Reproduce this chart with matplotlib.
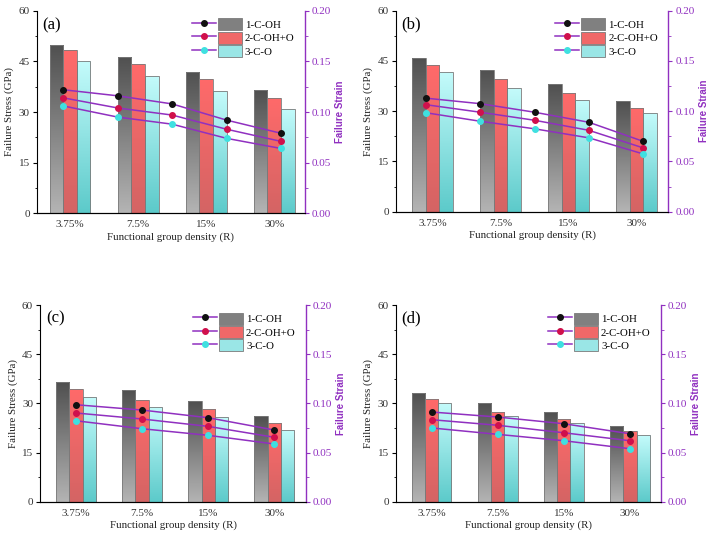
import numpy as np
import matplotlib
matplotlib.use('Agg')
import matplotlib.pyplot as plt
from matplotlib.colors import LinearSegmentedColormap
from matplotlib.patches import Patch
from matplotlib.legend_handler import HandlerTuple
from matplotlib.ticker import MultipleLocator, FormatStrFormatter

groups = ['3.75%', '7.5%', '15%', '30%']
labels = ['1-C-OH', '2-C-OH+O', '3-C-O']

# failure stress (GPa), one row per series
stress_a = [[49.8, 46.4, 42.0, 36.4], [48.3, 44.2, 39.9, 34.1], [45.0, 40.6, 36.1, 31.0]]
stress_b = [[46.0, 42.4, 38.2, 33.1], [43.7, 39.7, 35.3, 31.0], [41.8, 37.0, 33.2, 29.4]]
stress_c = [[36.6, 34.0, 30.6, 26.1], [34.3, 31.0, 28.2, 23.9], [32.0, 28.8, 25.9, 21.8]]
stress_d = [[33.1, 30.0, 27.3, 23.1], [31.2, 27.5, 25.2, 21.5], [30.0, 26.0, 24.1, 20.3]]

# failure strain
strain_a = [[0.122, 0.116, 0.108, 0.092, 0.079],
            [0.114, 0.104, 0.097, 0.083, 0.071],
            [0.106, 0.095, 0.088, 0.074, 0.064]]
strain_b = [[0.113, 0.1075, 0.099, 0.089, 0.070],
            [0.1065, 0.099, 0.091, 0.081, 0.0635],
            [0.0985, 0.090, 0.0825, 0.0735, 0.0575]]
strain_c = [[0.0986, 0.0932, 0.0854, 0.0729],
            [0.0902, 0.0841, 0.0766, 0.0655],
            [0.0823, 0.0742, 0.0675, 0.0587]]
strain_d = [[0.0912, 0.0861, 0.0793, 0.0691],
            [0.0834, 0.0777, 0.0701, 0.0620],
            [0.075, 0.0685, 0.062, 0.0539]]

panels = [('(a)', stress_a, strain_a), ('(b)', stress_b, strain_b),
          ('(c)', stress_c, strain_c), ('(d)', stress_d, strain_d)]

bar_top = ['#505050', '#ff6a6a', '#c4fbfb']
bar_bottom = ['#b4b4b4', '#d46464', '#5ccaca']
bar_mid = ['#808080', '#f06868', '#9ae6e6']
dot_colors = ['#111111', '#d0104c', '#3fe0e0']
purple = '#9030c0'

plt.rcParams['font.family'] = ['Liberation Serif', 'DejaVu Serif']
plt.rcParams['font.size'] = 8


def gradient_bars(ax, bars, top, bottom):
    cmap = LinearSegmentedColormap.from_list('g', [bottom, top])
    grad = np.linspace(0, 1, 128).reshape(-1, 1)
    for b in bars:
        x, y = b.get_xy()
        w, h = b.get_width(), b.get_height()
        im = ax.imshow(grad, extent=[x, x + w, y, y + h], origin='lower',
                       cmap=cmap, aspect='auto', zorder=b.get_zorder() - 0.1)
        im.set_clip_path(b)
        b.set_facecolor('none')


positions = [[0.0518, 0.6028, 0.3782, 0.3772],
             [0.558, 0.6058, 0.3846, 0.3742],
             [0.0564, 0.0657, 0.3752, 0.3663],
             [0.558, 0.0657, 0.3743, 0.3663]]
xlims = [(-0.49, 3.45), (-0.545, 3.47), (-0.545, 3.48), (-0.545, 3.47)]

fig = plt.figure(figsize=(7.09, 5.37), dpi=100)

for (tag, stress, strain), pos, xl in zip(panels, positions, xlims):
    ax = fig.add_axes(pos)
    x = np.arange(len(groups))
    width = 0.2
    for i in range(3):
        bars = ax.bar(x + (i - 1) * width, stress[i], width,
                      edgecolor='#7a7a7a', linewidth=0.6, zorder=2)
        gradient_bars(ax, bars, bar_top[i], bar_bottom[i])
    ax.set_xlim(*xl)
    ax.set_ylim(0, 60)
    ax.set_xticks(x)
    ax.set_xticklabels(groups, color='#333333')
    ax.yaxis.set_major_locator(MultipleLocator(15))
    ax.yaxis.set_minor_locator(MultipleLocator(7.5))
    ax.tick_params(axis='x', length=0, pad=5)
    ax.tick_params(axis='y', direction='out', length=3, width=0.8, pad=2,
                   labelcolor='#333333')
    ax.tick_params(axis='y', which='minor', length=1.8, width=0.6)
    ax.spines['top'].set_visible(False)
    ax.spines['right'].set_visible(False)
    ax.set_xlabel('Functional group density (R)', fontsize=7.8, labelpad=2,
                  color='#222222')
    ax.set_ylabel('Failure Stress (GPa)', fontsize=7.8, labelpad=3,
                  color='#222222')
    ax.text(0.022, 0.93, tag, transform=ax.transAxes, fontsize=12,
            va='center', ha='left')

    ax2 = ax.twinx()
    n = len(strain[0])
    if n == 5:
        sx = np.linspace(-0.1, 3.1, n)
    else:
        sx = x.astype(float)
    line_handles = []
    for i in range(3):
        h, = ax2.plot(sx, strain[i], '-o', color=purple, lw=1.1,
                      markerfacecolor=dot_colors[i], markeredgecolor=dot_colors[i],
                      markersize=4)
        line_handles.append(h)
    ax2.set_ylim(0, 0.2)
    ax2.yaxis.set_major_locator(MultipleLocator(0.05))
    ax2.yaxis.set_minor_locator(MultipleLocator(0.025))
    ax2.yaxis.set_major_formatter(FormatStrFormatter('%.2f'))
    ax2.tick_params(axis='y', colors=purple, direction='out', length=3, width=0.8, pad=2)
    ax2.tick_params(axis='y', which='minor', colors=purple, length=1.8, width=0.6)
    ax2.spines['right'].set_color(purple)
    ax2.spines['right'].set_linewidth(1.0)
    ax2.spines['top'].set_visible(False)
    ax2.spines['left'].set_visible(False)
    ax2.set_ylabel('Failure Strain', color=purple, fontsize=7, fontweight='bold',
                   family='Liberation Sans', labelpad=3)

    handles = [(line_handles[i], Patch(facecolor=bar_mid[i], edgecolor='#7a7a7a', linewidth=0.6))
               for i in range(3)]
    ax2.legend(handles, labels, handler_map={tuple: HandlerTuple(ndivide=None, pad=0.15)},
               loc='upper right', bbox_to_anchor=(0.99, 1.0), frameon=False,
               fontsize=7.8, handlelength=4.6, handleheight=1.35,
               labelspacing=0.1, handletextpad=0.3, borderpad=0.2)

fig.savefig('out.png', dpi=100)
